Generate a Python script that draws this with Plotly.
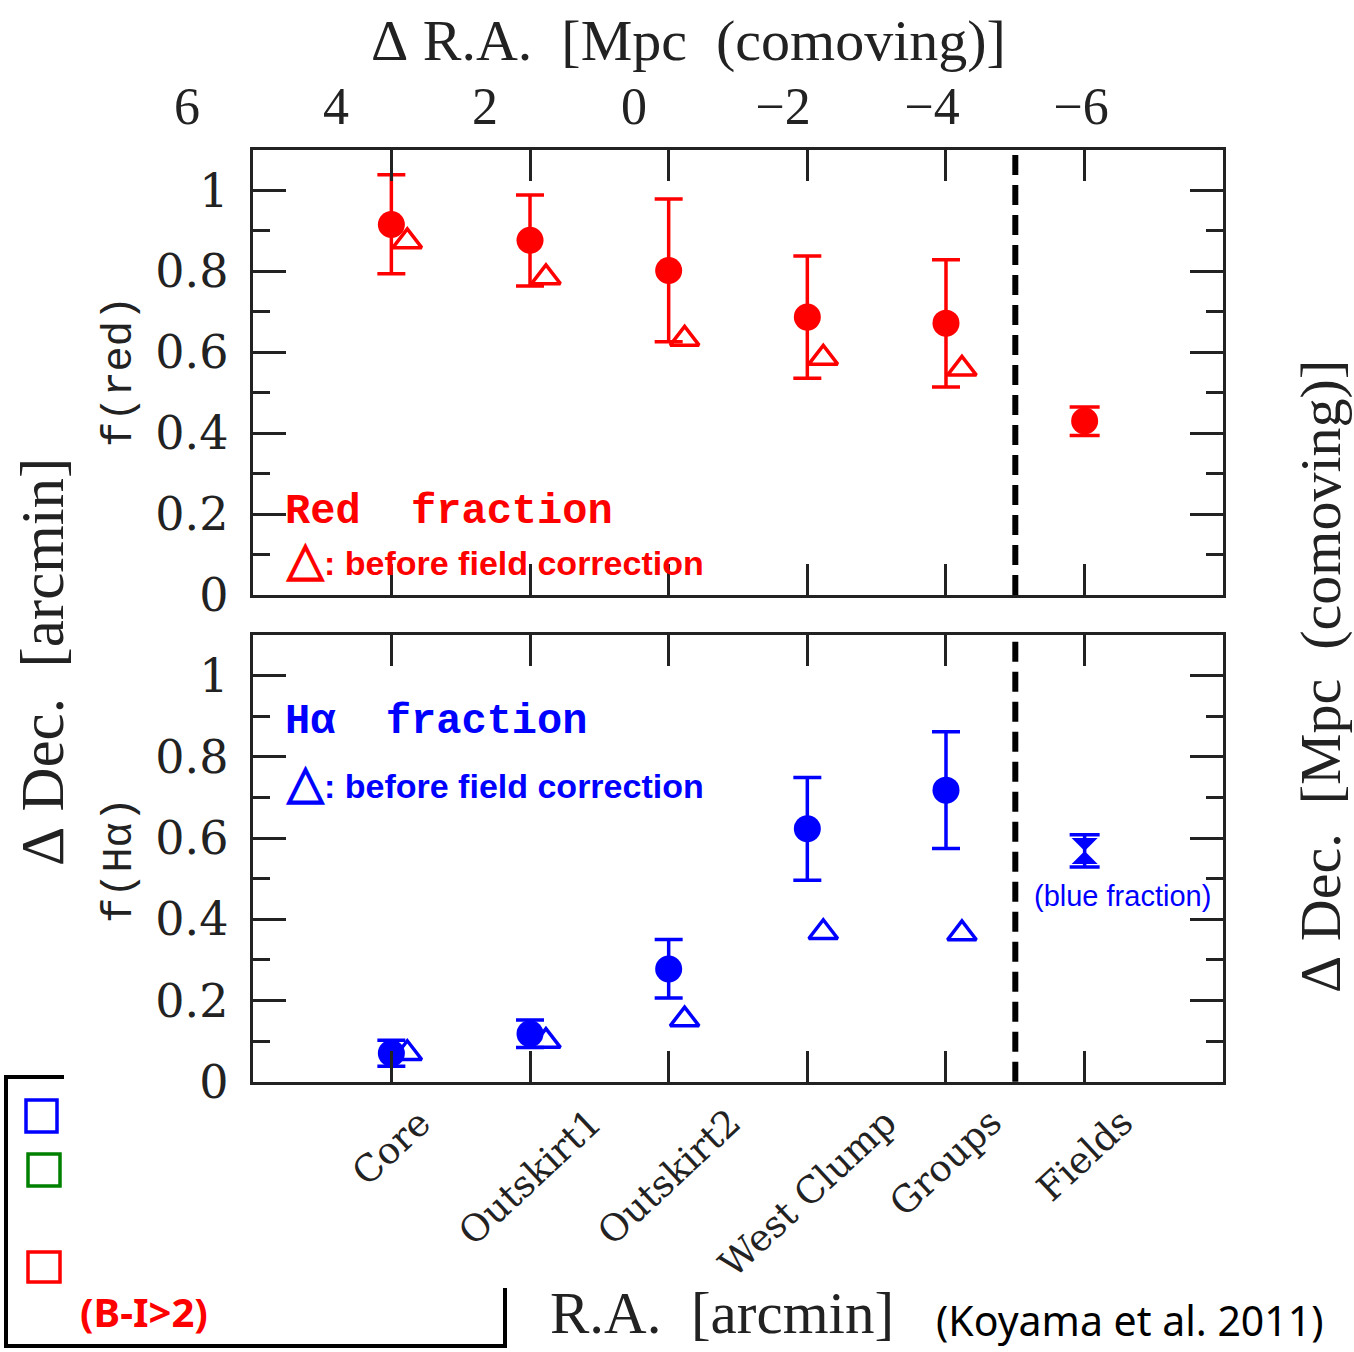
import plotly.graph_objects as go

W, H = 1354, 1352

# ---- data -------------------------------------------------------------
regions = ["Core", "Outskirt1", "Outskirt2", "West Clump", "Groups", "Fields"]
region_x = [1, 2, 3, 4, 5, 6]
cluster_x = [1, 2, 3, 4, 5]
field_x = [6]

# red fraction (field corrected) with 1-sigma bounds, cluster regions
red_frac = [0.916, 0.877, 0.802, 0.687, 0.672]
red_upper = [1.039, 0.989, 0.979, 0.838, 0.829]
red_lower = [0.794, 0.764, 0.626, 0.536, 0.514]
# red fraction before field correction
red_raw = [0.874, 0.785, 0.633, 0.586, 0.559]
# general field
red_field = [0.430]
red_field_upper = [0.465]
red_field_lower = [0.394]

# H-alpha fraction (field corrected) with bounds
ha_frac = [0.070, 0.118, 0.2775, 0.623, 0.718]
ha_upper = [0.102, 0.152, 0.350, 0.749, 0.862]
ha_lower = [0.038, 0.084, 0.206, 0.496, 0.574]
# H-alpha fraction before field correction
ha_raw = [0.070, 0.100, 0.153, 0.368, 0.365]
# general field (blue fraction)
blue_field = [0.568]
blue_field_upper = [0.608]
blue_field_lower = [0.529]

frac_range = [0, 1.1]
mpc_ticks = [6, 4, 2, 0, -2, -4, -6]
mpc_ticktext = ["6", "4", "2", "0", "\u22122", "\u22124", "\u22126"]
field_divider = 5.5

RED = "#ff0000"
BLUE = "#0000ff"
GREEN = "#008000"
INK = "#222222"

RAW_SHIFT = 0.115  # horizontal nudge for the "before correction" symbols


def px(x, y):
    """pixel position -> paper coordinates"""
    return x / W, 1 - y / H


def errs(v, hi, lo):
    return [h - a for a, h in zip(v, hi)], [a - l for a, l in zip(v, lo)]


fig = go.Figure()


def add_points(xs, vals, hi, lo, color, yaxis, xaxis, symbol="circle",
               size=27, cap=14):
    plus, minus = errs(vals, hi, lo)
    fig.add_trace(go.Scatter(
        x=xs, y=vals, mode="markers", xaxis=xaxis, yaxis=yaxis,
        marker=dict(symbol=symbol, size=size, color=color,
                    line=dict(width=0)),
        error_y=dict(type="data", symmetric=False, array=plus,
                     arrayminus=minus, color=color, thickness=3.5,
                     width=cap),
        showlegend=False, hoverinfo="skip"))


def add_raw(xs, vals, color, yaxis, xaxis):
    fig.add_trace(go.Scatter(
        x=[x + RAW_SHIFT for x in xs], y=vals, mode="markers",
        xaxis=xaxis, yaxis=yaxis,
        marker=dict(symbol="triangle-up-open", size=25, color=color,
                    line=dict(width=3.5, color=color)),
        showlegend=False, hoverinfo="skip"))


# top panel: red fraction
add_points(cluster_x, red_frac, red_upper, red_lower, RED, "y", "x")
add_raw(cluster_x, red_raw, RED, "y", "x")
add_points(field_x, red_field, red_field_upper, red_field_lower, RED,
           "y", "x", cap=15)

# bottom panel: H-alpha fraction
add_points(cluster_x, ha_frac, ha_upper, ha_lower, BLUE, "y2", "x2")
add_raw(cluster_x, ha_raw, BLUE, "y2", "x2")
add_points(field_x, blue_field, blue_field_upper, blue_field_lower, BLUE,
           "y2", "x2", symbol="hourglass", size=26, cap=15)

# carrier for the comoving-distance scale along the top
fig.add_trace(go.Scatter(x=[None], y=[None], xaxis="x3", yaxis="y",
                         showlegend=False, hoverinfo="skip"))

x_dom = [252.7 / W, 1223.3 / W]
top_dom = [1 - 595 / H, 1 - 150 / H]
bot_dom = [1 - 1081.7 / H, 1 - 635 / H]

xcommon = dict(range=[0, 7], tickvals=region_x, ticks="inside", ticklen=31,
               tickwidth=3, tickcolor=INK, showline=True, linewidth=3,
               linecolor=INK, mirror="ticks", showgrid=False, zeroline=False,
               domain=x_dom, fixedrange=True, showticklabels=False)
ycommon = dict(range=frac_range, tick0=0, dtick=0.2, ticks="inside",
               ticklen=33, tickwidth=3, tickcolor=INK, showline=True,
               linewidth=3, linecolor=INK, mirror="ticks", showgrid=False,
               zeroline=False, ticklabelstandoff=12,
               tickfont=dict(family="DejaVu Serif", size=46, color=INK),
               minor=dict(dtick=0.1, tick0=0, ticks="inside", ticklen=17,
                          tickwidth=3, tickcolor=INK, showgrid=False),
               fixedrange=True)

fig.update_layout(
    width=W, height=H,
    margin=dict(l=0, r=0, t=0, b=0, autoexpand=False),
    paper_bgcolor="white", plot_bgcolor="rgba(0,0,0,0)",
    xaxis=dict(**xcommon, anchor="y"),
    yaxis=dict(**ycommon, domain=top_dom, anchor="x"),
    xaxis2=dict(**xcommon, anchor="y2"),
    yaxis2=dict(**ycommon, domain=bot_dom, anchor="x2"),
    xaxis3=dict(domain=[0, 1], range=[634 / 74.5, -(W - 634) / 74.5],
                anchor="free", position=1 - 134 / H, side="top",
                tickvals=mpc_ticks, ticktext=mpc_ticktext, ticks="",
                showline=False, showgrid=False, zeroline=False,
                tickfont=dict(family="Liberation Serif", size=52,
                              color=INK), fixedrange=True),
)

# field / cluster divider
for xr, yr in (("x", "y"), ("x2", "y2")):
    fig.add_shape(type="line", xref=xr, yref=f"{yr} domain",
                  x0=field_divider, x1=field_divider, y0=0, y1=1,
                  line=dict(color="black", width=6, dash="20px,10px"))

NB = "\u00a0"
ann = []


def text(x, y, s, size, family, color=INK, angle=0, xanchor="center"):
    ax, ay = px(x, y)
    ann.append(dict(x=ax, y=ay, xref="paper", yref="paper", text=s,
                    showarrow=False, textangle=angle, xanchor=xanchor,
                    yanchor="middle",
                    font=dict(size=size, family=family, color=color)))


# slanted region names below the lower panel
for xv, name in zip(region_x, regions):
    ann.append(dict(x=xv, xref="x2", y=1 - 1098 / H, yref="paper",
                    text=name, showarrow=False, textangle=-43,
                    xanchor="center", yanchor="top",
                    font=dict(family="DejaVu Serif", size=37, color=INK)))

serif = "Liberation Serif"
text(688, 40, f"\u0394{NB}R.A.{NB}{NB}[Mpc{NB}{NB}(comoving)]", 58, serif)
text(722, 1313, f"R.A.{NB}{NB}[arcmin]", 59, serif)
text(42, 662, f"\u0394{NB}Dec.{NB}{NB}[arcmin]", 61, serif, angle=-90)
text(1320, 677, f"\u0394{NB}Dec.{NB}{NB}[Mpc{NB}{NB}(comoving)]", 58, serif,
     angle=-90)
text(120, 372, "f(red)", 42, "Liberation Mono", angle=-90)
text(120, 860, "f(H\u03b1)", 42, "Liberation Mono", angle=-90)
text(1130, 1320, "(Koyama et al. 2011)", 41, "Noto Sans", color="black")

mono = "Liberation Mono"
cond = "Liberation Sans"
tri = "<span style='font-size:48px'>\u25b3</span>"
text(283, 512, f"<b>Red{NB}{NB}fraction</b>", 42, mono, RED, xanchor="left")
text(283, 558, f"<b>{tri}: before field correction</b>", 34, cond, RED,
     xanchor="left")
text(283, 722, f"<b>H\u03b1{NB}{NB}fraction</b>", 42, mono, BLUE,
     xanchor="left")
text(283, 781, f"<b>{tri}: before field correction</b>", 34, cond, BLUE,
     xanchor="left")
text(1122, 896, "(blue fraction)", 29, "Liberation Sans", BLUE)
text(144, 1311, "<b>(B-I>2)</b>", 40, "Noto Sans", RED)
fig.update_layout(annotations=ann)

# selection key panel in the lower-left corner
shapes = []


def seg(x0, y0, x1, y1, color="black", width=4):
    a0, b0 = px(x0, y0)
    a1, b1 = px(x1, y1)
    shapes.append(dict(type="line", xref="paper", yref="paper", x0=a0,
                       y0=b0, x1=a1, y1=b1,
                       line=dict(color=color, width=width)))


def box(x0, y0, x1, y1, color):
    a0, b0 = px(x0, y0)
    a1, b1 = px(x1, y1)
    shapes.append(dict(type="rect", xref="paper", yref="paper", x0=a0,
                       y0=b0, x1=a1, y1=b1,
                       line=dict(color=color, width=3.5)))


seg(6, 1076, 6, 1347)
seg(4, 1077, 64, 1077)
seg(4, 1346, 507, 1346)
seg(505, 1288, 505, 1348)
box(26, 1100, 57, 1132, BLUE)
box(28, 1154, 60, 1186, GREEN)
box(28, 1252, 60, 1282, RED)
for s in shapes:
    fig.add_shape(**s)

fig.write_html("out.html")
